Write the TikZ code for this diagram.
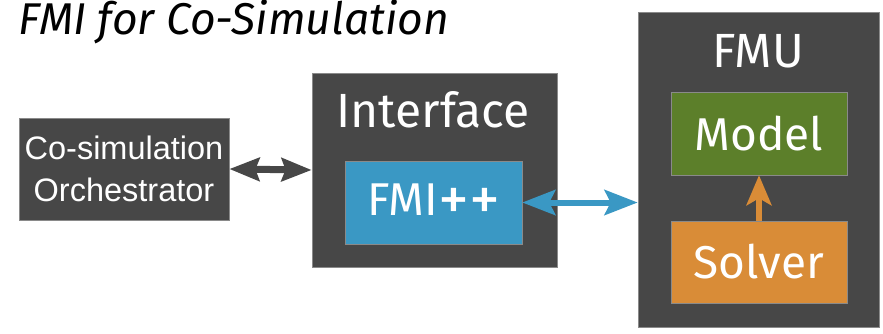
\documentclass[tikz,border=0pt]{standalone}
\usepackage{fontspec}
\setmainfont{Liberation Sans}
\newfontfamily\boxfont{Fira Sans}
\usetikzlibrary{arrows.meta}
\definecolor{darkbox}{HTML}{474747}
\definecolor{blueb}{HTML}{3A98C4}
\definecolor{greenb}{HTML}{5C7F2A}
\definecolor{orangeb}{HTML}{D98C37}
\definecolor{edgegray}{HTML}{8A8A8A}
\begin{document}
\begin{tikzpicture}[x=1pt,y=-1pt,
  darkrect/.style={fill=darkbox,draw=edgegray,line width=0.7pt,inner sep=0pt,text=white},
  colrect/.style={draw=edgegray,line width=0.5pt,inner sep=0pt,text=white,
     font=\boxfont\fontsize{46}{50}\selectfont},
  headtext/.style={text=white,font=\boxfont\fontsize{48}{52}\selectfont,anchor=base,inner sep=0pt}
]
\useasboundingbox (0,0) rectangle (883,333);
\fill[white] (0,0) rectangle (883,333);

\node[anchor=base west,inner sep=0pt,font=\boxfont\itshape\fontsize{44.5}{50}\selectfont] (title) at (18,34) {FMI for Co-Simulation};

\node[darkrect,minimum width=210pt,minimum height=102pt,align=center,
  font=\fontsize{32.5}{42}\selectfont] (orch) at (124,169) {Co-simulation\\Orchestrator};

\node[darkrect,minimum width=245pt,minimum height=194pt] (iface) at (434.5,170) {};
\node[headtext] (ifacelbl) at (433,127) {Interface};
\node[colrect,fill=blueb,minimum width=177pt,minimum height=83pt] (fmi) at (433.5,202.5) {FMI{\fontsize{62}{62}\selectfont\raisebox{-5pt}{++}}};

\node[darkrect,minimum width=241pt,minimum height=315pt] (fmu) at (758.5,169.5) {};
\node[headtext] (fmulbl) at (758,67) {FMU};
\node[colrect,fill=greenb,minimum width=176pt,minimum height=83pt] (model) at (759,133.5) {Model};
\node[colrect,fill=orangeb,minimum width=176pt,minimum height=82pt] (solver) at (759,262) {Solver};

\draw[darkbox,line width=7pt,{Stealth[length=30pt,width=23pt,inset=4pt]}-{Stealth[length=30pt,width=23pt,inset=4pt]}] (orch.east) -- (iface.west);
\draw[blueb,line width=6pt,{Stealth[length=33pt,width=25pt,inset=6pt]}-{Stealth[length=33pt,width=25pt,inset=6pt]}] (fmi.east) -- (fmu.west|-fmi.east);
\draw[orangeb,line width=5.5pt,-{Stealth[length=30pt,width=25pt,inset=7pt]}] (solver.north) -- (model.south);
\end{tikzpicture}
\end{document}
